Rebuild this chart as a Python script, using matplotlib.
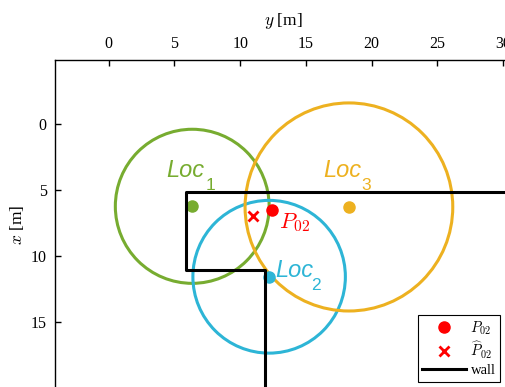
import numpy as np
import matplotlib
matplotlib.use("Agg")
import matplotlib.pyplot as plt
from matplotlib.patches import Circle

plt.rcParams['font.family'] = ['Liberation Serif', 'DejaVu Serif']
plt.rcParams['mathtext.fontset'] = 'cm'

# anchor locations (y, x) and measured ranges [m]
loc_names = ['1', '2', '3']
loc_y = [6.35, 12.2, 18.27]
loc_x = [6.25, 11.6, 6.3]
loc_r = [5.85, 5.8, 7.9]
loc_colors = ['#77AC30', '#2DB5D6', '#EDB120']

# true and estimated position of P02
p_true = (12.4, 6.53)
p_est = (11.0, 6.96)

# wall outline (y, x)
wall_y = [31.0, 5.88, 5.88, 11.9, 11.9]
wall_x = [5.14, 5.14, 11.08, 11.08, 21.0]

# label anchors: (y, x) of "Loc" and of its subscript
loc_text = [(4.4, 4.0), (12.65, 11.6), (16.32, 4.0)]
loc_sub = [(7.4, 5.0), (15.4, 12.6), (19.2, 5.0)]

fig = plt.figure(figsize=(5.06, 3.87), dpi=100)
ax = fig.add_axes([55 / 506, 1 - 390 / 387, 456 / 506, 330 / 387])

for cy, cx, r, c in zip(loc_y, loc_x, loc_r, loc_colors):
    ax.add_patch(Circle((cy, cx), r, fill=False, edgecolor=c, lw=2.2, zorder=2))
    ax.plot(cy, cx, 'o', color=c, ms=8, zorder=3)

for (ty, tx), (sy, sx), name, c in zip(loc_text, loc_sub, loc_names, loc_colors):
    ax.text(ty, tx, 'Loc', color=c, fontsize=17, fontstyle='italic',
            family='Liberation Sans', va='baseline', ha='left', zorder=5)
    ax.text(sy, sx, name, color=c, fontsize=12.5, family='Liberation Sans',
            va='baseline', ha='left', zorder=5)

ax.plot(*p_true, 'o', color='red', ms=8, zorder=4, label=r'$P_{02}$')
ax.plot(*p_est, 'x', color='red', ms=7, mew=2, zorder=4,
        label=r'$\widehat{P}_{02}$')
ax.plot(wall_y, wall_x, color='black', lw=2.2, zorder=3, label='wall')
ax.text(12.96, 7.92, r'$P_{02}$', color='red', fontsize=16,
        va='baseline', ha='left', zorder=5)

ax.set_xlim(-4.09, 30.6)
ax.set_ylim(20.2, -4.86)

ax.xaxis.tick_top()
ax.xaxis.set_label_position('top')
ax.set_xticks(np.arange(0, 31, 5))
ax.set_yticks(np.arange(0, 16, 5))
ax.tick_params(direction='in', length=4, width=1, labelsize=11.5, pad=6)
ax.set_xlabel(r'$y$ [m]', fontsize=12.5, labelpad=8)
ax.set_ylabel(r'$x$ [m]', fontsize=12.5, labelpad=3)
for side in ['right', 'bottom']:
    ax.spines[side].set_visible(False)
for side in ['left', 'top']:
    ax.spines[side].set_linewidth(1.0)

leg = ax.legend(loc='upper left', bbox_to_anchor=(418 / 506, 1 - 315 / 387),
                bbox_transform=fig.transFigure, borderaxespad=0,
                fancybox=False, edgecolor='black', framealpha=1,
                fontsize=10.5, handlelength=3.0, handletextpad=0.3,
                labelspacing=0.2, borderpad=0.3)
leg.get_frame().set_linewidth(0.8)

fig.savefig('out.png', dpi=100)
